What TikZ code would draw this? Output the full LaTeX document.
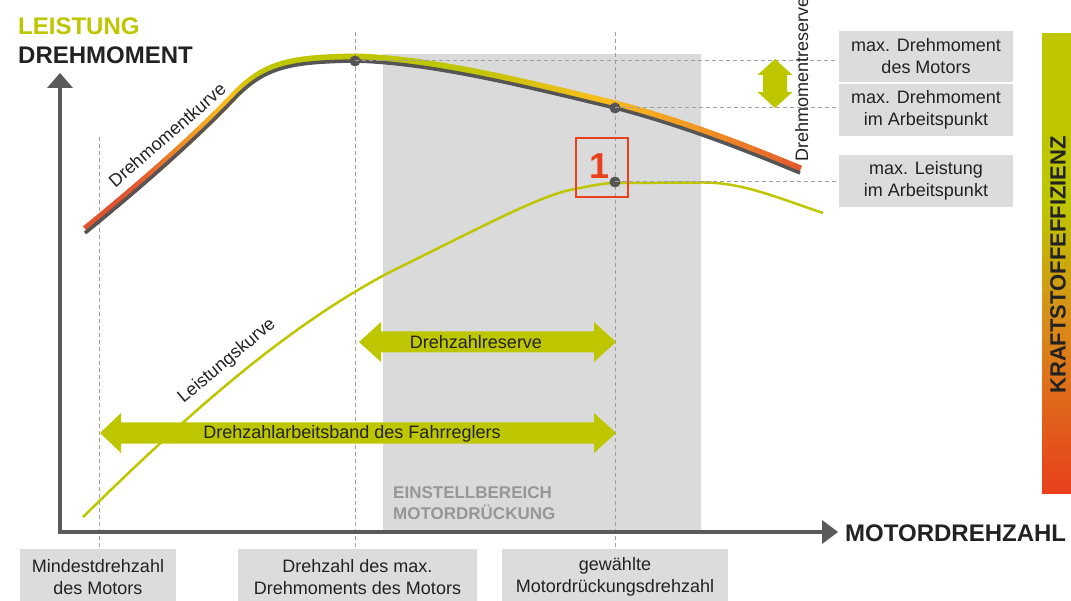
\documentclass[tikz,border=0pt]{standalone}
\usepackage{fontspec}
\setmainfont{Liberation Sans}
\definecolor{yg}{RGB}{190,198,0}
\definecolor{cRed}{RGB}{226,83,47}
\definecolor{cOrange}{RGB}{242,150,35}
\definecolor{cYellow}{RGB}{250,190,30}
\definecolor{axisgray}{RGB}{90,90,90}
\definecolor{dotgray}{RGB}{85,85,85}
\definecolor{regiongray}{RGB}{218,218,218}
\definecolor{boxgray}{RGB}{220,220,220}
\definecolor{dashgray}{RGB}{160,160,160}
\definecolor{txt}{RGB}{34,34,34}
\definecolor{redbox}{RGB}{232,64,28}
\definecolor{barMid}{RGB}{216,140,26}
\definecolor{barBot}{RGB}{232,64,28}
\definecolor{einst}{RGB}{150,150,150}
\newcommand\torquepath[1]{\draw[#1] (85,233) .. controls (150,180) and (200,135) .. (235,98) .. controls (265,67) and (290,62) .. (355,61) .. controls (430,63) and (520,85) .. (615,108) .. controls (680,125) and (740,148) .. (800,173);}
\tikzset{
  band/.style={line width=8pt,line cap=butt},
  gline/.style={dotgray,line width=3.5pt},
  pline/.style={yg,line width=2.5pt},
  dline/.style={dashgray,line width=1pt,dash pattern=on 4pt off 3pt},
  dotmark/.style={circle,fill=dotgray,inner sep=0pt,minimum size=11pt},
  lbox/.style={fill=boxgray,inner sep=0pt,align=center,text=txt,font=\fontsize{18}{22}\selectfont},
  lbl/.style={text=txt,inner sep=0pt,font=\fontsize{18}{22}\selectfont},
  bigtitle/.style={inner sep=0pt,font=\fontsize{24}{28}\selectfont\bfseries},
}
\begin{document}
\begin{tikzpicture}[x=1pt,y=-1pt]
\useasboundingbox (0,0) rectangle (1071,601);
% region
\fill[regiongray] (383,54) rectangle (701,531);
% vertical dashed lines
\coordinate (v1t) at (99,137); \coordinate (v1b) at (99,547);
\coordinate (v2t) at (355,32); \coordinate (v2b) at (355,547);
\coordinate (v3t) at (615,32); \coordinate (v3b) at (615,547);
\draw[dline] (v1t) -- (v1b);
\draw[dline] (v2t) -- (v2b);
\draw[dline] (v3t) -- (v3b);
% power curve
\draw[pline] (83,517) .. controls (180,422) and (280,330) .. (390,272) .. controls (480,228) and (540,195) .. (575,189) .. controls (595,185) and (605,183) .. (616,183) -- (700,182.5) .. controls (740,182) and (770,195) .. (823,213);
% torque band
\foreach \xa/\xb/\ca/\cb in {80/135/cRed/cRed,135/190/cRed/cOrange,190/228/cOrange/cYellow,228/258/cYellow/yg,258/470/yg/yg,470/600/yg/cYellow,600/700/cYellow/cOrange,700/810/cOrange/cRed}{
  \foreach \k in {0,...,7}{
    \pgfmathsetmacro\xl{\xa+(\xb-\xa)*\k/8-0.4}
    \pgfmathsetmacro\xr{\xa+(\xb-\xa)*(\k+1)/8+0.4}
    \pgfmathtruncatemacro\p{100-(\k+0.5)*12.5}
    \begin{scope}
      \clip (\xl,0) rectangle (\xr,300);
      \torquepath{band,color=\ca!\p!\cb,shift={(0.5,-3.5)}}
    \end{scope}
  }
}
\torquepath{gline}
% dots
\node[dotmark] (d1) at (355,61) {};
\node[dotmark] (d2) at (615,108) {};
\node[dotmark] (d3) at (615,182) {};
% horizontal dashed lines
\coordinate (h1) at (838,61);
\coordinate (h2) at (838,108);
\coordinate (h3) at (838,182);
\draw[dline] (d1.center) -- (h1);
\draw[dline] (d2.center) -- (h2);
\draw[dline] (d3.center) -- (h3);
% red box
\draw[redbox,line width=2pt] (576,138) rectangle (628,197);
\node[text=redbox,inner sep=0pt,font=\fontsize{36}{40}\selectfont\bfseries] (one) at (600,166) {1};
% arrows
\fill[yg] (359,342) -- (381,322) -- (381,331.5) -- (594,331.5) -- (594,322) -- (616,342) -- (594,362) -- (594,352.5) -- (381,352.5) -- (381,362) -- cycle;
\fill[yg] (100,433) -- (121,413) -- (121,422.5) -- (594,422.5) -- (594,413) -- (616,433) -- (594,453) -- (594,443.5) -- (121,443.5) -- (121,453) -- cycle;
\fill[yg] (775,59) -- (792.5,75) -- (787,75) -- (787,92) -- (792.5,92) -- (775,108) -- (757.5,92) -- (763,92) -- (763,75) -- (757.5,75) -- cycle;
\node[lbl] (dzr) at (476,342) {Drehzahlreserve};
\node[lbl] (dzab) at (352,434) {Drehzahlarbeitsband des Fahrreglers};
% curve labels
\node[lbl,rotate=41] (dmk) at (167,135) {Drehmomentkurve};
\node[lbl,rotate=40] (lk) at (227,361) {Leistungskurve};
\node[lbl,rotate=90,anchor=base west] (dmr) at (808,162) {Drehmomentreserve};
% einstellbereich
\node[inner sep=0pt,anchor=base west,text=einst,font=\fontsize{17}{20}\selectfont\bfseries] (e1) at (393,498) {EINSTELLBEREICH};
\node[inner sep=0pt,anchor=base west,text=einst,font=\fontsize{17}{20}\selectfont\bfseries] (e2) at (393,519) {MOTORDRÜCKUNG};
% axes
\coordinate (o) at (60,532);
\coordinate (yt) at (60,86);
\coordinate (xt) at (824,532);
\draw[axisgray,line width=4pt] (60,534) -- (yt);
\fill[axisgray] (60,73) -- (73,88) -- (47,88) -- cycle;
\draw[axisgray,line width=4pt] (58,532) -- (xt);
\fill[axisgray] (838,532) -- (822,520) -- (822,544) -- cycle;
% titles
\node[bigtitle,text=yg,anchor=base west] (t1) at (18,35) {LEISTUNG};
\node[bigtitle,text=txt,anchor=base west] (t2) at (18,64) {DREHMOMENT};
\node[bigtitle,text=txt,anchor=base west] (t3) at (845,541) {MOTORDREHZAHL};
% right boxes
\node[lbox,minimum width=174pt,minimum height=51pt] (r1) at (926,56.5) {max. Drehmoment\\des Motors};
\node[lbox,minimum width=174pt,minimum height=52pt] (r2) at (926,110) {max. Drehmoment\\im Arbeitspunkt};
\node[lbox,minimum width=174pt,minimum height=52pt] (r3) at (926,181) {max. Leistung\\im Arbeitspunkt};
% bottom boxes
\fill[boxgray] (20,549) rectangle (176,605);
\fill[boxgray] (238,549) rectangle (477,605);
\fill[boxgray] (502,549) rectangle (728,605);
\node[lbl,align=center] (b1) at (98,577) {Mindestdrehzahl\\des Motors};
\node[lbl,align=center] (b2) at (357.5,577) {Drehzahl des max.\\Drehmoments des Motors};
\node[lbl,align=center] (b3) at (615,577) {gewählte\\Motordrückungsdrehzahl};
% colour bar
\fill[yg] (1042,33) rectangle (1071,206);
\shade[top color=yg,bottom color=barMid] (1042,205) rectangle (1071,321);
\shade[top color=barMid,bottom color=barBot] (1042,320) rectangle (1071,493);
\node[inner sep=0pt,rotate=90,text=txt,font=\fontsize{22}{26}\selectfont\bfseries] (kf) at (1058,265) {KRAFTSTOFFEFFIZIENZ};
\end{tikzpicture}
\end{document}
